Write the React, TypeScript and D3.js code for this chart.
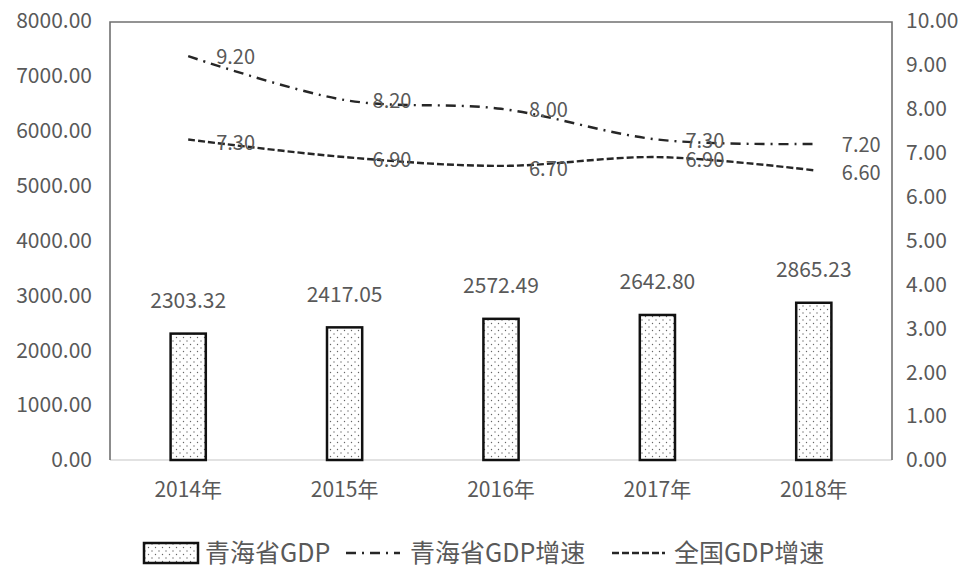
import * as d3 from 'd3'

const years = ['2014年', '2015年', '2016年', '2017年', '2018年']
const gdp = [2303.32, 2417.05, 2572.49, 2642.8, 2865.23]
const qhGrowth = [9.2, 8.2, 8.0, 7.3, 7.2]
const cnGrowth = [7.3, 6.9, 6.7, 6.9, 6.6]
const leftTicks = [0, 1000, 2000, 3000, 4000, 5000, 6000, 7000, 8000]
const rightTicks = [0, 1, 2, 3, 4, 5, 6, 7, 8, 9, 10]

const W = 971
const H = 570
const plot = { left: 110, right: 892, top: 21, bottom: 460 }
const font = '"Noto Sans CJK SC", "Noto Sans", sans-serif'
const textColor = '#595959'
const dashDot = '10 6 2 6'
const dashed = '7 3'

export default function App() {
  const x = d3.scaleBand<string>().domain(years).range([plot.left, plot.right]).padding(0)
  const yL = d3.scaleLinear().domain([0, 8000]).range([plot.bottom, plot.top])
  const yR = d3.scaleLinear().domain([0, 10]).range([plot.bottom, plot.top])
  const cx = (i: number) => (x(years[i]) ?? 0) + x.bandwidth() / 2
  const barW = x.bandwidth() * 0.225

  const line = d3
    .line<number>()
    .x((_, i) => cx(i))
    .y(d => yR(d))
    .curve(d3.curveCardinal.tension(0))

  return (
    <div style={{ position: 'absolute', left: 0, top: 0 }}>
      <svg width={W} height={H} style={{ display: 'block', background: '#fff' }} fontFamily={font}>
        <defs>
          <pattern id="dots" width="7" height="7" patternUnits="userSpaceOnUse">
            <rect width="7" height="7" fill="#fff" />
            <circle cx="1.5" cy="1.5" r="0.7" fill="#666" />
            <circle cx="5" cy="5" r="0.7" fill="#666" />
          </pattern>
        </defs>

        {/* plot frame */}
        <line x1={plot.left} x2={plot.right} y1={plot.bottom} y2={plot.bottom} stroke="#d9d9d9" strokeWidth={1.5} />
        <path
          d={`M${plot.left},${plot.bottom}V${plot.top + 1}H${plot.right}V${plot.bottom}`}
          fill="none"
          stroke="#707070"
          strokeWidth={1.6}
        />

        {/* left axis */}
        {leftTicks.map(t => (
          <text key={'l' + t} x={92} y={yL(t)} dy="0.35em" textAnchor="end" fontSize={21} fill={textColor}>
            {t.toFixed(2)}
          </text>
        ))}
        {/* right axis */}
        {rightTicks.map(t => (
          <text key={'r' + t} x={906} y={yR(t)} dy="0.35em" textAnchor="start" fontSize={21} fill={textColor}>
            {t.toFixed(2)}
          </text>
        ))}
        {/* x axis */}
        {years.map((y, i) => (
          <text key={y} x={cx(i)} y={490} dy="0.35em" textAnchor="middle" fontSize={21} fill={textColor}>
            {y}
          </text>
        ))}

        {/* bars */}
        {gdp.map((v, i) => (
          <g key={'b' + i}>
            <rect
              x={cx(i) - barW / 2}
              y={yL(v)}
              width={barW}
              height={plot.bottom - yL(v)}
              fill="url(#dots)"
              stroke="#111"
              strokeWidth={2.5}
            />
            <text x={cx(i)} y={yL(v) - 33} dy="0.35em" textAnchor="middle" fontSize={21} fill={textColor}>
              {v.toFixed(2)}
            </text>
          </g>
        ))}

        {/* growth lines */}
        <path d={line(cnGrowth) ?? ''} fill="none" stroke="#262626" strokeWidth={2.4} strokeDasharray={dashed} />
        <path d={line(qhGrowth) ?? ''} fill="none" stroke="#262626" strokeWidth={2.4} strokeDasharray={dashDot} />
        {qhGrowth.map((v, i) => (
          <text key={'q' + i} x={cx(i) + 28} y={yR(v) + 1} dy="0.35em" fontSize={20} fill={textColor}>
            {v.toFixed(2)}
          </text>
        ))}
        {cnGrowth.map((v, i) => (
          <text key={'c' + i} x={cx(i) + 28} y={yR(v) + 3} dy="0.35em" fontSize={20} fill={textColor}>
            {v.toFixed(2)}
          </text>
        ))}

        {/* legend */}
        <g fontSize={25} fill={textColor}>
          <rect x={144} y={543} width={54} height={20} fill="url(#dots)" stroke="#111" strokeWidth={2.5} />
          <text x={205} y={553} dy="0.35em">青海省GDP</text>
          <line x1={346} x2={400} y1={553} y2={553} stroke="#262626" strokeWidth={2.4} strokeDasharray={dashDot} />
          <text x={410} y={553} dy="0.35em">青海省GDP增速</text>
          <line x1={612} x2={665} y1={553} y2={553} stroke="#262626" strokeWidth={2.4} strokeDasharray={dashed} />
          <text x={674} y={553} dy="0.35em">全国GDP增速</text>
        </g>
      </svg>
    </div>
  )
}
